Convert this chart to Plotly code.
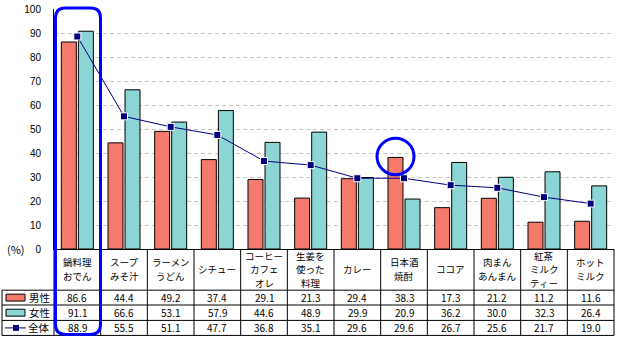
import plotly.graph_objects as go

# Survey: warm foods people want to eat (%)
categories = ["鍋料理<br>おでん", "スープ<br>みそ汁", "ラーメン<br>うどん", "シチュー",
              "コーヒー<br>カフェ<br>オレ", "生姜を<br>使った<br>料理", "カレー",
              "日本酒<br>焼酎", "ココア", "肉まん<br>あんまん", "紅茶<br>ミルク<br>ティー",
              "ホット<br>ミルク"]
male = [86.6, 44.4, 49.2, 37.4, 29.1, 21.3, 29.4, 38.3, 17.3, 21.2, 11.2, 11.6]
female = [91.1, 66.6, 53.1, 57.9, 44.6, 48.9, 29.9, 20.9, 36.2, 30.0, 32.3, 26.4]
total = [88.9, 55.5, 51.1, 47.7, 36.8, 35.1, 29.6, 29.6, 26.7, 25.6, 21.7, 19.0]
series_names = ["男性", "女性", "全体"]
y_ticks = list(range(0, 101, 10))

W, H = 618, 339
ML, MR, MT, MB = 54, 4, 6, 90
PW, PH = W - ML - MR, H - MT - MB
N = len(categories)
YMAX = 100.4  # a hair above 100 so the top tick and grid line are kept

RED = "#F47A6B"
TEAL = "#8BD5D5"
NAVY = "#000080"
BLUE = "#0000FF"
FONT = "Noto Sans CJK JP"


def px(x):
    """pixel x -> paper x"""
    return (x - ML) / PW


def py(y):
    """pixel y -> paper y"""
    return (H - MB - y) / PH


def col_px(i):
    """left pixel edge of table column i"""
    return ML + i * PW / N


fig = go.Figure()
fig.add_trace(go.Bar(x=categories, y=male, name=series_names[0],
                     marker=dict(color=RED, line=dict(color="black", width=1))))
fig.add_trace(go.Bar(x=categories, y=female, name=series_names[1],
                     marker=dict(color=TEAL, line=dict(color="black", width=1))))
fig.add_trace(go.Scatter(x=categories, y=total, name=series_names[2], mode="lines+markers",
                         line=dict(color=NAVY, width=1),
                         marker=dict(symbol="square", size=7, color=NAVY,
                                     line=dict(color="white", width=1))))

shapes = []
line_style = dict(color="black", width=1)

# table rows: header, 男性, 女性, 全体
row_y = [249, 290.7, 305.7, 321.3, 336.5]
for y in row_y[1:]:
    shapes.append(dict(type="line", xref="paper", yref="paper", x0=px(2), x1=px(W - MR),
                       y0=py(y), y1=py(y), line=line_style))
shapes.append(dict(type="line", xref="paper", yref="paper", x0=px(2), x1=px(2),
                   y0=py(row_y[1]), y1=py(row_y[-1]), line=line_style))
for i in range(N + 1):
    x = col_px(i)
    shapes.append(dict(type="line", xref="paper", yref="paper", x0=px(x), x1=px(x),
                       y0=py(row_y[0]), y1=py(row_y[-1]), line=line_style))

annotations = []
row_c = [(row_y[j] + row_y[j + 1]) / 2 for j in range(4)]
HEAD_C, HEAD_STEP = 269.5, 13.8
for i, cat in enumerate(categories):
    # header cell: one annotation per text line
    lines = cat.split("<br>")
    for k, ln in enumerate(lines):
        yl = HEAD_C + (k - (len(lines) - 1) / 2) * HEAD_STEP
        annotations.append(dict(x=cat, xref="x", y=py(yl), yref="paper", text=ln,
                                showarrow=False, font=dict(family=FONT, size=9.5, color="black"),
                                xanchor="center", yanchor="middle", borderpad=0))
    for j, vals in enumerate([male, female, total]):
        annotations.append(dict(x=cat, xref="x", y=py(row_c[j + 1]), yref="paper",
                                text=f"{vals[i]:.1f}", showarrow=False,
                                font=dict(family=FONT, size=10, color="black"),
                                xanchor="center", yanchor="middle", borderpad=0))

# legend keys in the left column
for j, name in enumerate(series_names):
    yc = row_c[j + 1]
    if j < 2:
        shapes.append(dict(type="rect", xref="paper", yref="paper", x0=px(6), x1=px(25),
                           y0=py(yc + 3.5), y1=py(yc - 3.5), fillcolor=[RED, TEAL][j],
                           line=dict(color="black", width=1)))
    else:
        shapes.append(dict(type="line", xref="paper", yref="paper", x0=px(5), x1=px(26),
                           y0=py(yc), y1=py(yc), line=dict(color=NAVY, width=1)))
        shapes.append(dict(type="rect", xref="paper", yref="paper", x0=px(13), x1=px(19),
                           y0=py(yc + 3), y1=py(yc - 3), fillcolor=NAVY, line=dict(width=0)))
    annotations.append(dict(x=px(39), xref="paper", y=py(yc), yref="paper", text=name,
                            showarrow=False, font=dict(family=FONT, size=10.5, color="black"),
                            xanchor="center", yanchor="middle", borderpad=0))

annotations.append(dict(x=px(16), xref="paper", y=py(249), yref="paper", text="(%)",
                        showarrow=False, font=dict(family=FONT, size=11, color="black"),
                        xanchor="center", yanchor="middle"))

# highlight box around the first column
bx0, bx1, by0, by1, r = 55.5, 100.5, 5, 335.5, 10
path = (f"M {px(bx0 + r)},{py(by0)} L {px(bx1 - r)},{py(by0)} "
        f"Q {px(bx1)},{py(by0)} {px(bx1)},{py(by0 + r)} "
        f"L {px(bx1)},{py(by1 - r)} Q {px(bx1)},{py(by1)} {px(bx1 - r)},{py(by1)} "
        f"L {px(bx0 + r)},{py(by1)} Q {px(bx0)},{py(by1)} {px(bx0)},{py(by1 - r)} "
        f"L {px(bx0)},{py(by0 + r)} Q {px(bx0)},{py(by0)} {px(bx0 + r)},{py(by0)} Z")
shapes.append(dict(type="path", xref="paper", yref="paper", path=path,
                   line=dict(color=BLUE, width=3), layer="above"))

# circle marking 日本酒・焼酎 (male)
idx = 7
cx = col_px(idx) + PW / N / 2 - 8.5
cy = (H - MB) - male[idx] * PH / YMAX - 1
rad = 18.5
shapes.append(dict(type="circle", xref="paper", yref="paper",
                   x0=px(cx - rad), x1=px(cx + rad), y0=py(cy + rad), y1=py(cy - rad),
                   line=dict(color=BLUE, width=3), layer="above"))

fig.update_layout(
    width=W, height=H, autosize=False,
    margin=dict(l=ML, r=MR, t=MT, b=MB, pad=0),
    paper_bgcolor="white", plot_bgcolor="white",
    barmode="group", bargap=0.27, bargroupgap=0.12,
    showlegend=False,
    shapes=shapes, annotations=annotations,
    font=dict(family=FONT, color="black"),
    xaxis=dict(type="category", categoryorder="array", categoryarray=categories,
               range=[-0.5, N - 0.5], showticklabels=False, ticks="",
               showline=True, linecolor="black", linewidth=1, showgrid=False, fixedrange=True),
    yaxis=dict(range=[0, YMAX], tickmode="array", tickvals=y_ticks,
               ticktext=[str(t) for t in y_ticks],
               showgrid=True, gridcolor="#C8C8C8",
               griddash="4px,3px", gridwidth=1, zeroline=False,
               showline=True, linecolor="black", linewidth=1, ticks="",
               ticklabelstandoff=10, tickfont=dict(family="Liberation Sans", size=10, color="black"),
               fixedrange=True),
)

fig.write_html("out.html")
